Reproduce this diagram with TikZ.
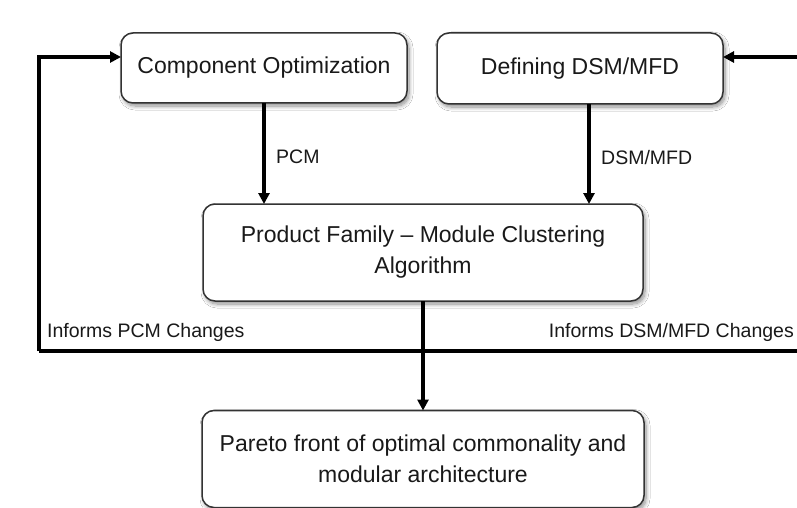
\documentclass[tikz,border=0pt]{standalone}
\usepackage{fontspec}
\setmainfont{Liberation Sans}
\usetikzlibrary{arrows.meta,shadows.blur,calc}
\begin{document}
\begin{tikzpicture}[x=1pt,y=-1pt,
  box/.style={draw=black!80, line width=1.5pt, rounded corners=12pt, fill=white,
    inner sep=0pt, outer sep=0pt, align=center, text=black!90,
    font=\fontsize{23}{31}\selectfont,
    blur shadow={shadow xshift=2pt, shadow yshift=-3pt, shadow blur steps=8,
      shadow blur radius=4pt, shadow opacity=45}},
  flow/.style={line width=3.3pt, line join=miter, -{Triangle[length=11pt,width=11pt]}},
  link/.style={line width=3.3pt, line join=miter},
  lbl/.style={font=\fontsize{19.5}{23}\selectfont, text=black!90, inner sep=0pt}]

\useasboundingbox (0,0) rectangle (797,508);
\fill[white] (0,0) rectangle (797,508);

% process boxes
\node[box, minimum width=286pt, minimum height=70pt] (comp) at (264,68) {Component Optimization};
\node[box, minimum width=286pt, minimum height=71pt] (dsm) at (580,68.5) {Defining DSM/MFD};
\node[box, minimum width=440pt, minimum height=97pt] (pf) at (423,252.5)
  {Product Family -- Module Clustering\\Algorithm};
\node[box, minimum width=442pt, minimum height=97pt] (pareto) at (423,459)
  {Pareto front of optimal commonality and\\modular architecture};

% feedback loop anchors
\coordinate (fbL) at (39,351);
\coordinate (fbR) at (797,351);
\coordinate (lin) at (39,57);
\coordinate (rin) at (797,57);

% matrix inputs to the clustering algorithm
\draw[flow] (comp.south) -- (comp.south |- pf.north);
\coordinate (dsmout) at (589,0);
\draw[flow] (dsmout |- dsm.south) -- (dsmout |- pf.north);

% result and feedback
\draw[flow] (pf.south) -- (pareto.north);
\draw[link] (fbL) -- (fbR);
\draw[flow] (fbL) -- (lin) -- (lin -| comp.west);
\draw[flow] (rin) -- (rin -| dsm.east);

% labels
\node[lbl, anchor=west] (lpcm) at (276,157) {PCM};
\node[lbl, anchor=west] (ldsm) at (601,158) {DSM/MFD};
\node[lbl, anchor=west] (lfbl) at (47,332) {Informs PCM Changes};
\node[lbl, anchor=east] (lfbr) at (794,332) {Informs DSM/MFD Changes};
\end{tikzpicture}
\end{document}
